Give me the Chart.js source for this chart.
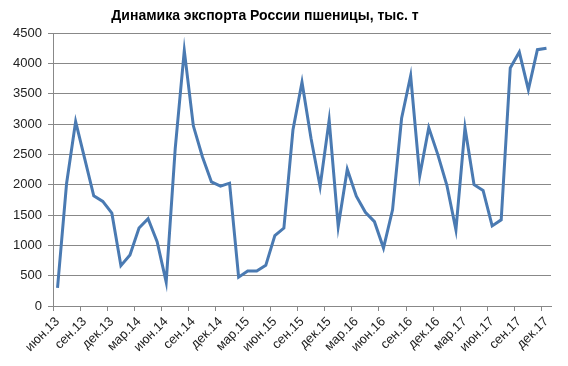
<!DOCTYPE html>
<html>
<head>
  <meta charset="UTF-8">
  <title>Динамика экспорта России пшеницы</title>
  <script src="https://cdn.jsdelivr.net/npm/chart.js"></script>
  <style>
    body {
      margin: 0;
      background: #fff;
      font-family: 'Liberation Sans', Arial, sans-serif;
    }
    .wrap {
      position: relative;
      width: 568px;
      height: 366px;
    }
    .title {
      position: absolute;
      left: 0;
      width: 530px;
      top: 7px;
      text-align: center;
      font-weight: bold;
      font-size: 14px;
      color: #000;
    }
  </style>
</head>
<body>
  <div class="wrap">
    <canvas id="exportChart" width="568" height="366"></canvas>
    <div class="title">Динамика экспорта России пшеницы, тыс. т</div>
  </div>

  <script>
    // months Jun 2013 .. Dec 2017
    const monthNames = ['янв', 'фев', 'мар', 'апр', 'май', 'июн', 'июл', 'авг', 'сен', 'окт', 'ноя', 'дек'];
    const months = [];
    for (let y = 13; y <= 17; y++) {
      for (let m = 0; m < 12; m++) {
        if (y === 13 && m < 5) continue;
        months.push(monthNames[m] + '.' + y);
      }
    }

    // wheat export, thousand tonnes
    const exports2013 = [300, 2020, 3040, 2430, 1815, 1725, 1530];
    const exports2014 = [665, 840, 1285, 1440, 1060, 395, 2600, 4210, 2970, 2460, 2045, 1975];
    const exports2015 = [2025, 475, 578, 578, 670, 1160, 1285, 2900, 3690, 2760, 1970, 3065];
    const exports2016 = [1310, 2255, 1810, 1545, 1390, 955, 1585, 3095, 3795, 2145, 2940, 2495];
    const exports2017 = [1990, 1255, 2940, 2000, 1905, 1320, 1420, 3925, 4185, 3565, 4225, 4250];
    const values = [].concat(exports2013, exports2014, exports2015, exports2016, exports2017);

    const yTicks = [0, 500, 1000, 1500, 2000, 2500, 3000, 3500, 4000, 4500];

    const gridColor = '#888';
    const textColor = '#222';
    const font = { family: "'Liberation Sans', Arial, sans-serif", size: 13 };

    const ctx = document.getElementById('exportChart').getContext('2d');
    new Chart(ctx, {
      type: 'line',
      data: {
        labels: months,
        datasets: [{
          data: values,
          borderColor: '#4a7ab2',
          borderWidth: 3,
          pointRadius: 0,
          tension: 0,
          fill: false
        }]
      },
      options: {
        responsive: false,
        animation: false,
        layout: { padding: { left: 0, right: 17, top: 33, bottom: 0 } },
        plugins: {
          legend: { display: false },
          title: { display: false },
          tooltip: { enabled: false }
        },
        scales: {
          x: {
            offset: true,
            afterFit: s => { s.height = 60; },
            grid: {
              offset: true,
              drawOnChartArea: false,
              tickLength: 5,
              color: c => (c.index % 3 === 0 ? gridColor : 'rgba(0,0,0,0)')
            },
            border: { display: true, color: gridColor },
            ticks: {
              autoSkip: false,
              minRotation: 45,
              maxRotation: 45,
              padding: 3,
              color: textColor,
              font: font,
              callback: function (v, i) { return i % 3 === 0 ? this.getLabelForValue(v) : ''; }
            }
          },
          y: {
            min: 0,
            max: 4500,
            afterFit: s => { s.width = 53; },
            afterBuildTicks: s => { s.ticks = yTicks.map(v => ({ value: v })); },
            grid: { color: gridColor, tickLength: 5 },
            border: { display: true, color: gridColor },
            ticks: { padding: 6, color: textColor, font: font, callback: v => String(v) }
          }
        }
      }
    });
  </script>
</body>
</html>
